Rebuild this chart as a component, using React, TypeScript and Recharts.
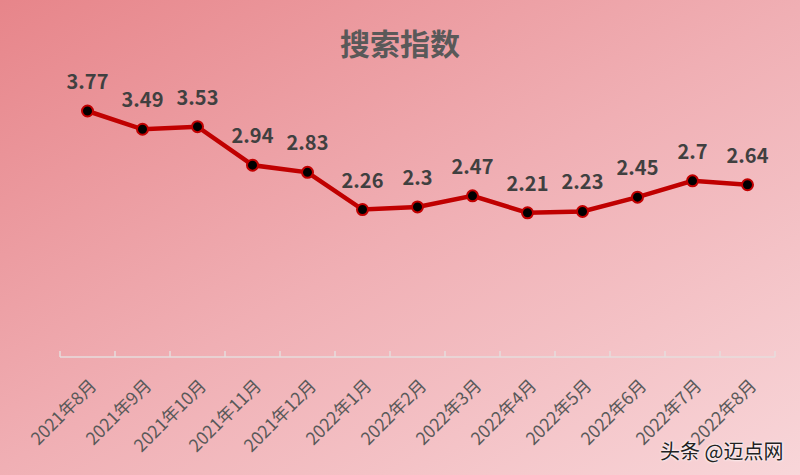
import { LineChart, Line, XAxis, YAxis, LabelList } from "recharts";

const months = [
  "2021年8月", "2021年9月", "2021年10月", "2021年11月", "2021年12月",
  "2022年1月", "2022年2月", "2022年3月", "2022年4月", "2022年5月",
  "2022年6月", "2022年7月", "2022年8月",
];
const searchIndex = [3.77, 3.49, 3.53, 2.94, 2.83, 2.26, 2.3, 2.47, 2.21, 2.23, 2.45, 2.7, 2.64];

const data = months.map((m, i) => ({ month: m, value: searchIndex[i] }));

const FONT = '"Noto Sans CJK SC", "Microsoft YaHei", sans-serif';
const BAND = 55;

function MonthTick(props: any) {
  const { x, y, payload, index } = props;
  const last = index === months.length - 1;
  const tx = x + 10;
  const ty = y + 30;
  return (
    <g>
      <line x1={x - BAND / 2} y1={y} x2={x - BAND / 2} y2={y - 6} stroke="#e6dcdc" strokeWidth={1.5} />
      {last && <line x1={x + BAND / 2} y1={y} x2={x + BAND / 2} y2={y - 6} stroke="#e6dcdc" strokeWidth={1.5} />}
      <text x={tx} y={ty} textAnchor="end" transform={`rotate(-45 ${tx} ${ty})`}
        fill="#595959" fontSize={17.5} fontFamily={FONT}>
        {payload.value}
      </text>
    </g>
  );
}

export default function App() {
  return (
    <div style={{
      position: "absolute", left: 0, top: 0, width: 800, height: 475,
      background: "linear-gradient(150deg, #e7858a 0%, #f0afb4 50%, #f8d6d9 100%)",
      fontFamily: FONT,
    }}>
      <div style={{
        position: "absolute", top: 21, width: 800, textAlign: "center",
        fontSize: 30, fontWeight: 700, color: "#595959", lineHeight: "42px",
      }}>搜索指数</div>
      <LineChart width={800} height={475} data={data}
        margin={{ top: 96, right: 25, left: 60, bottom: 18 }}>
        <XAxis dataKey="month" interval={0} height={100} padding={{ left: BAND / 2, right: BAND / 2 }}
          stroke="#e6dcdc" strokeWidth={1.5} tickLine={false} tickSize={0} tickMargin={0}
          tick={<MonthTick />} />
        <YAxis hide domain={[0, 4]} />
        <Line dataKey="value" stroke="#c00000" strokeWidth={4.5} isAnimationActive={false}
          dot={{ r: 5.5, fill: "#000", stroke: "#c00000", strokeWidth: 2 }}>
          <LabelList dataKey="value" position="top" offset={22}
            style={{ fontSize: 20, fontWeight: 700, fill: "#404040", fontFamily: FONT }} />
        </Line>
      </LineChart>
      <div style={{
        position: "absolute", left: 660, top: 436, fontSize: 20, color: "#222",
        textShadow: "0 0 3px #fff, 0 0 2px #fff",
      }}>头条 @迈点网</div>
    </div>
  );
}
